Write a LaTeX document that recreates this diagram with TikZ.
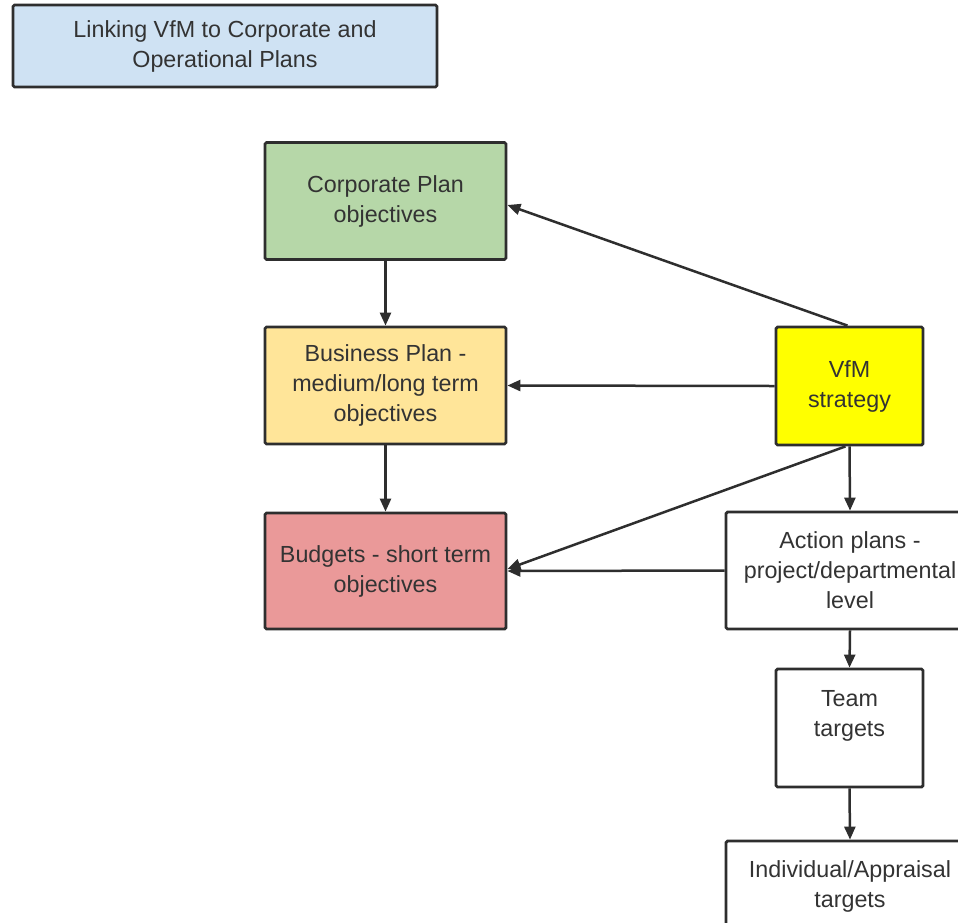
\documentclass[tikz,border=0pt]{standalone}
\usepackage{fontspec}
\setmainfont{Liberation Sans}
\usetikzlibrary{arrows.meta}
\definecolor{edge}{HTML}{2E2E2E}
\definecolor{txt}{HTML}{333333}
\definecolor{titlefill}{HTML}{CFE2F3}
\definecolor{corpfill}{HTML}{B6D7A8}
\definecolor{busfill}{HTML}{FFE599}
\definecolor{budfill}{HTML}{EA9999}
\definecolor{vfmfill}{HTML}{FFFF00}
\begin{document}
\begin{tikzpicture}[x=1pt,y=-1pt,
  box/.style={draw=edge,line width=2.8pt,rounded corners=1.5pt,align=center,
    text=txt,font=\fontsize{23.3}{30}\selectfont,inner sep=0pt},
  conn/.style={draw=edge,line width=2.5pt,-{Triangle[length=13pt,width=11pt]}}]
\useasboundingbox (0,0) rectangle (958,922);
\fill[white] (0,0) rectangle (958,922);
\begin{scope}
\clip (0,0) rectangle (958,922);
\node[box,fill=titlefill,minimum width=424pt,minimum height=82pt] (title) at (225,46) {Linking VfM to Corporate and\\Operational Plans};
\node[box,fill=corpfill,minimum width=241pt,minimum height=117pt] (corp) at (385.5,201) {Corporate Plan\\objectives};
\node[box,fill=busfill,minimum width=241pt,minimum height=117pt] (bus) at (385.5,385.5) {Business Plan -\\medium/long term\\objectives};
\node[box,fill=budfill,minimum width=241pt,minimum height=116pt] (bud) at (385.5,571) {Budgets - short term\\objectives};
\node[box,fill=vfmfill,minimum width=147pt,minimum height=118pt] (vfm) at (849.5,386) {VfM\\strategy};
\node[box,fill=white,minimum width=248pt,minimum height=117pt] (action) at (850,570.5) {Action plans -\\project/departmental\\level};
\node[box,fill=white,minimum width=147pt,minimum height=118pt] (team) at (849.5,728) {Team\\targets\\\mbox{}};
\node[box,fill=white,minimum width=248pt,minimum height=117pt] (indiv) at (850,899.5) {Individual/Appraisal\\targets\\\mbox{}};
\draw[conn] (corp.south) -- (bus.north);
\draw[conn] (bus.south) -- (bud.north);
\draw[conn] ([xshift=-2pt]vfm.north) -- ([yshift=-4pt]corp.east);
\draw[conn] (vfm.west) -- (bus.east);
\draw[conn] ([xshift=-4pt]vfm.south) -- ([yshift=2pt]bud.east);
\draw[conn] (action.west) -- (bud.east);
\draw[conn] (vfm.south) -- (action.north);
\draw[conn] (action.south) -- (team.north);
\draw[conn] (team.south) -- (indiv.north);
\end{scope}
\end{tikzpicture}
\end{document}
